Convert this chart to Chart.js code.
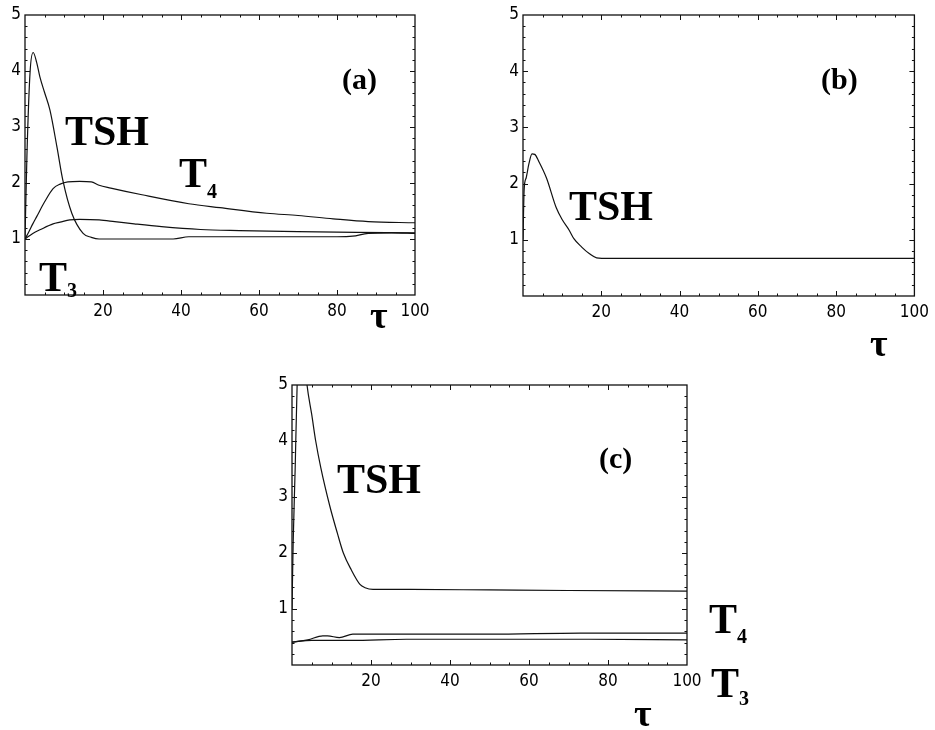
<!DOCTYPE html>
<html>
<head>
<meta charset="utf-8">
<script src="https://cdn.jsdelivr.net/npm/chart.js@4.4.1/dist/chart.umd.min.js"></script>
<style>
  html, body { margin: 0; padding: 0; background: #fff; }
  #page { position: relative; width: 935px; height: 730px; overflow: hidden; background: #fff; }
  canvas { position: absolute; }
  .lbl { position: absolute; font-family: 'Liberation Serif', 'Times New Roman', serif; font-weight: bold; color: #000; line-height: 1; white-space: nowrap; }
  .big { font-size: 42px; }
  .tag { font-size: 30px; }
  .tau { font-size: 38px; font-weight: bold; }
  .sub { font-size: 20px; position: relative; }
</style>
</head>
<body>
<div id="page">
  <canvas id="ca" width="445" height="340" style="left:0px;top:0px;"></canvas>
  <canvas id="cb" width="445" height="340" style="left:490px;top:0px;"></canvas>
  <canvas id="cc" width="460" height="330" style="left:260px;top:370px;"></canvas>

  <!-- panel (a) annotations -->
  <div class="lbl tag" style="left:342px;top:64px;">(a)</div>
  <div class="lbl big" style="left:65px;top:110px;">TSH</div>
  <div class="lbl big" style="left:179px;top:152px;">T<span class="sub" style="top:11px;">4</span></div>
  <div class="lbl big" style="left:39px;top:256px;">T<span class="sub" style="top:6px;">3</span></div>
  <div class="lbl tau" style="left:370px;top:296px;">τ</div>

  <!-- panel (b) annotations -->
  <div class="lbl tag" style="left:821px;top:64px;">(b)</div>
  <div class="lbl big" style="left:569px;top:185px;">TSH</div>
  <div class="lbl tau" style="left:870px;top:324px;">τ</div>

  <!-- panel (c) annotations -->
  <div class="lbl tag" style="left:599px;top:443px;">(c)</div>
  <div class="lbl big" style="left:337px;top:458px;">TSH</div>
  <div class="lbl big" style="left:709px;top:598px;">T<span class="sub" style="top:10px;">4</span></div>
  <div class="lbl big" style="left:711px;top:662px;">T<span class="sub" style="top:8px;">3</span></div>
  <div class="lbl tau" style="left:634px;top:694px;">τ</div>
</div>
<script>
// ---------- data ----------
const xTicks = [20, 40, 60, 80, 100];
const yTicks = [1, 2, 3, 4, 5];

// Panel (a)
const tauTshA = [0, 0.5, 1.3, 2.1, 3, 3.8, 5, 6.4, 8.2, 9.7, 12, 14.9, 17, 19, 25, 30, 38, 42, 50, 60, 70, 80, 84, 88, 94, 100];
const tshA    = [1.0, 2.5, 3.98, 4.33, 4.15, 3.9, 3.62, 3.3, 2.64, 2.05, 1.46, 1.1, 1.03, 1.0, 1.0, 1.0, 1.0, 1.04, 1.04, 1.04, 1.04, 1.04, 1.05, 1.1, 1.11, 1.1];
const tauT4A  = [0, 1, 2, 3, 5, 7.2, 9, 11, 14, 17, 19, 22, 30, 42, 50, 62, 70, 79, 88, 100];
const t4A     = [1.0, 1.13, 1.27, 1.4, 1.66, 1.9, 1.98, 2.02, 2.03, 2.02, 1.96, 1.91, 1.79, 1.63, 1.56, 1.46, 1.42, 1.36, 1.31, 1.29];
const tauT3A  = [0, 2, 4, 7.2, 9, 11.5, 14, 19, 23, 28, 35, 45, 55, 70, 85, 100];
const t3A     = [1.0, 1.1, 1.17, 1.27, 1.3, 1.34, 1.35, 1.34, 1.31, 1.27, 1.22, 1.17, 1.15, 1.13, 1.12, 1.11];

// Panel (b)
const tauTshB = [0, 0.3, 0.8, 1.5, 2.3, 3, 4, 6, 8.5, 10, 11.8, 13, 15, 17, 18.8, 22, 40, 60, 80, 100];
const tshB    = [1.0, 1.9, 2.1, 2.35, 2.53, 2.52, 2.4, 2.1, 1.57, 1.36, 1.17, 1.02, 0.87, 0.75, 0.68, 0.67, 0.67, 0.67, 0.67, 0.67];

// Panel (c)
const tauTshC = [0, 0.3, 0.8, 1.3, 2.5, 3.8, 5, 6, 7.3, 9.6, 11.5, 13, 15, 17.2, 18.5, 20.5, 30, 50, 70, 100];
const tshC    = [1.0, 2.2, 3.5, 5.0, 6.0, 5.0, 4.47, 4.0, 3.52, 2.83, 2.35, 2.0, 1.7, 1.44, 1.38, 1.35, 1.35, 1.34, 1.33, 1.32];
const tauT4C  = [0, 4, 7.8, 9, 12, 15.4, 25, 50, 73, 100];
const t4C     = [0.41, 0.45, 0.52, 0.52, 0.49, 0.55, 0.55, 0.55, 0.57, 0.57];
const tauT3C  = [0, 5, 15, 29, 50, 75, 100];
const t3C     = [0.41, 0.44, 0.44, 0.46, 0.46, 0.46, 0.45];

// ---------- helpers ----------
function pts(xs, ys) { return xs.map((x, i) => ({ x: x, y: ys[i] })); }

const tickFont = { family: "'Liberation Sans Narrow', 'DejaVu Sans Condensed', 'Liberation Sans', sans-serif", size: 17 };

const framePlugin = {
  id: 'frame',
  afterDraw(chart) {
    const ctx = chart.ctx, a = chart.chartArea;
    const sx = chart.scales.x, sy = chart.scales.y;
    ctx.save();
    ctx.strokeStyle = '#111';
    ctx.lineWidth = 1.3;
    ctx.strokeRect(a.left, a.top, a.right - a.left, a.bottom - a.top);
    ctx.lineWidth = 1;
    ctx.beginPath();
    for (let v = 5; v < 100; v += 5) {
      const px = Math.round(sx.getPixelForValue(v)) + 0.5;
      const len = (v % 20 === 0) ? 5 : 2.5;
      ctx.moveTo(px, a.bottom); ctx.lineTo(px, a.bottom - len);
      ctx.moveTo(px, a.top); ctx.lineTo(px, a.top + len);
    }
    for (let k = 1; k < 25; k++) {
      const v = k * 0.2;
      const py = Math.round(sy.getPixelForValue(v)) + 0.5;
      const len = (k % 5 === 0) ? 5 : 2.5;
      ctx.moveTo(a.left, py); ctx.lineTo(a.left + len, py);
      ctx.moveTo(a.right, py); ctx.lineTo(a.right - len, py);
    }
    ctx.stroke();
    ctx.restore();
  }
};

function makePanel(id, series, box) {
  const el = document.getElementById(id);
  const H = el.height;
  return new Chart(el, {
    type: 'line',
    data: {
      datasets: series.map(s => ({
        data: s,
        borderColor: '#111',
        borderWidth: 1.2,
        pointRadius: 0,
        fill: false,
        cubicInterpolationMode: 'monotone'
      }))
    },
    options: {
      responsive: false,
      animation: false,
      events: [],
      layout: { padding: { top: box.top, right: box.right, left: 0, bottom: 0 } },
      plugins: { legend: { display: false }, tooltip: { enabled: false }, title: { display: false } },
      scales: {
        x: {
          type: 'linear', min: 0, max: 100,
          afterBuildTicks: s => { s.ticks = xTicks.map(v => ({ value: v })); },
          ticks: { color: '#000', font: tickFont, padding: 6, maxRotation: 0, autoSkip: false },
          grid: { display: false, drawTicks: false },
          border: { display: false },
          afterFit: s => { s.height = H - box.bottom; }
        },
        y: {
          type: 'linear', min: 0, max: 5,
          afterBuildTicks: s => { s.ticks = yTicks.map(v => ({ value: v })); },
          ticks: { color: '#000', font: tickFont, padding: 4, autoSkip: false },
          grid: { display: false, drawTicks: false },
          border: { display: false },
          afterFit: s => { s.width = box.left; }
        }
      }
    },
    plugins: [framePlugin]
  });
}

makePanel('ca', [pts(tauTshA, tshA), pts(tauT4A, t4A), pts(tauT3A, t3A)],
  { left: 25, top: 15, right: 30, bottom: 295 });
makePanel('cb', [pts(tauTshB, tshB)],
  { left: 33, top: 15, right: 13, bottom: 296 });
makePanel('cc', [pts(tauTshC, tshC), pts(tauT4C, t4C), pts(tauT3C, t3C)],
  { left: 32, top: 15, right: 33, bottom: 295 });
</script>
</body>
</html>
